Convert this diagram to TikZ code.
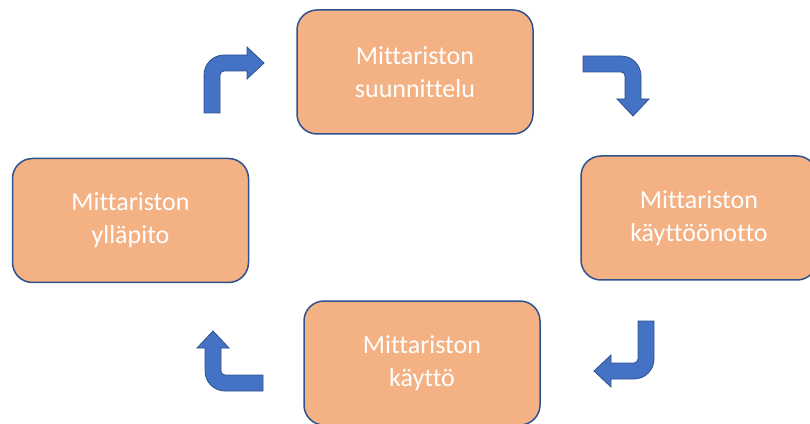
\documentclass[tikz,border=0pt]{standalone}
\usepackage{fontspec}
\setmainfont{Carlito}[Ligatures={NoCommon}]
\usepackage{xcolor}
\usepackage{tikz}
\usetikzlibrary{positioning}

\definecolor{boxfill}{HTML}{F4B183}
\definecolor{boxedge}{HTML}{2F528F}
\definecolor{arrowfill}{HTML}{4472C4}

\begin{document}
\begin{tikzpicture}[
x=1pt, y=1pt,
phase/.style={draw=boxedge, line width=1.5pt, rounded corners=20pt, fill=boxfill, text=white, align=center, minimum width=236pt, minimum height=124pt, font=\fontsize{26}{33}\selectfont},
bent/.style={fill=arrowfill, draw=boxedge, line width=0.8pt}
]
\useasboundingbox (0,0) rectangle (810,423);
\clip (0,0) rectangle (810,423);
\node[phase] (suunnittelu) at (415,351) {Mittariston\\ suunnittelu};
\node[phase] (kayttoonotto) at (699,205) {Mittariston\\ käyttöönotto};
\node[phase] (kaytto) at (422,60) {Mittariston\\ käyttö};
\node[phase] (yllapito) at (130.5,202.5) {Mittariston\\ ylläpito};
% bent arrows between the phases
\foreach \px/\py/\ang in {204/310/0, 583/367/-90, 654/102/180, 263/32/90}{
  \begin{scope}[shift={(\px,\py)}, rotate=\ang]
    \path[bent] (0,0) -- (0,38) arc[start angle=180, end angle=90, radius=20] -- (43,58) -- (43,66) -- (60,50) -- (43,34) -- (43,42) -- (20,42) arc[start angle=90, end angle=180, radius=4] -- (16,0) -- cycle;
  \end{scope}
}
\end{tikzpicture}
\end{document}
